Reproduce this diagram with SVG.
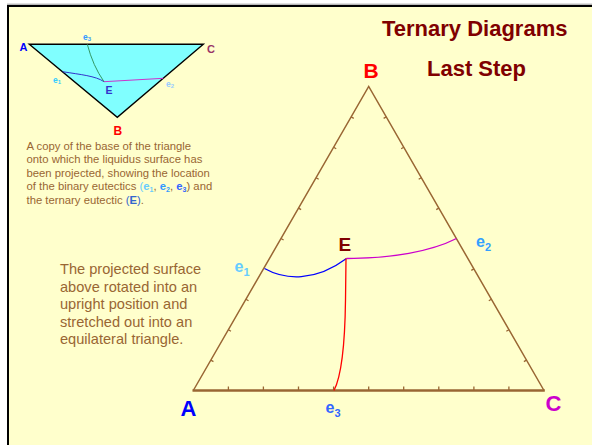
<svg xmlns="http://www.w3.org/2000/svg" width="592" height="445" viewBox="0 0 592 445">
<style>
text{font-family:"Liberation Sans",Arial,sans-serif}
.b{font-weight:bold}
.p{font-size:11.3px;fill:#996633}
.q{font-size:14.6px;fill:#996633}
.edge{fill:none;stroke:#996633;stroke-width:1.5}
.tick{fill:none;stroke:#996633;stroke-width:1.3}
</style>
<rect x="0" y="0" width="592" height="445" fill="#ffffff"/>
<rect x="8" y="6" width="600" height="460" fill="#FFFFCC" stroke="#000" stroke-width="2"/>
<line x1="7" y1="4.2" x2="592" y2="4.2" stroke="#999" stroke-width="1"/>

<g id="title">
<text x="382" y="36" class="b" font-size="22" fill="#800000">Ternary Diagrams</text>
<text x="427" y="76" class="b" font-size="22" fill="#800000">Last Step</text>
</g>

<g id="small-triangle">
<polygon points="29.3,44.3 203.3,44.3 117.3,117.3" fill="#80FFFF" stroke="#000" stroke-width="1.4" stroke-linejoin="miter"/>
<path d="M62.7,71.7 C80,74.5 96,76 104,81.7" fill="none" stroke="#3333CC" stroke-width="1"/>
<path d="M104,81.7 L163.3,78.3" fill="none" stroke="#CC33CC" stroke-width="1"/>
<path d="M87.3,44.3 Q93,66 104,81.7" fill="none" stroke="#339966" stroke-width="1"/>
<text x="19.5" y="51" class="b" font-size="11" fill="#0000FF">A</text>
<text x="207" y="52.5" class="b" font-size="11" fill="#993366">C</text>
<text x="113.5" y="135" class="b" font-size="12" fill="#FF0000">B</text>
<text x="105.5" y="94" class="b" font-size="10.5" fill="#3333CC">E</text>
<text x="83" y="39.5" class="b" font-size="8.5" fill="#3399FF">e<tspan font-size="6" dy="1.5">3</tspan></text>
<text x="53" y="82.5" class="b" font-size="8.5" fill="#33CCFF">e<tspan font-size="6" dy="1.5">1</tspan></text>
<text x="166" y="86.5" class="b" font-size="8.5" fill="#99CCFF">e<tspan font-size="6" dy="1.5">2</tspan></text>
</g>

<g id="caption">
<text x="26.5" y="149.5" class="p">A copy of the base of the triangle</text>
<text x="26.5" y="163.1" class="p">onto which the liquidus surface has</text>
<text x="26.5" y="176.7" class="p">been projected, showing the location</text>
<text x="26.5" y="190.3" class="p">of the binary eutectics <tspan fill="#66CCFF">(</tspan><tspan class="b" fill="#66CCFF">e</tspan><tspan class="b" fill="#66CCFF" font-size="7" dy="2">1</tspan><tspan dy="-2">, </tspan><tspan class="b" fill="#3399FF">e</tspan><tspan class="b" fill="#3399FF" font-size="7" dy="2">2</tspan><tspan dy="-2">, </tspan><tspan class="b" fill="#3366FF">e</tspan><tspan class="b" fill="#3366FF" font-size="7" dy="2">3</tspan><tspan dy="-2">) and</tspan></text>
<text x="26.5" y="203.9" class="p">the ternary eutectic <tspan fill="#3366CC">(</tspan><tspan class="b" fill="#3366CC">E</tspan><tspan fill="#3366CC">)</tspan>.</text>
</g>

<g id="description">
<text x="60" y="274" class="q">The projected surface</text>
<text x="60" y="291.5" class="q">above rotated into an</text>
<text x="60" y="309" class="q">upright position and</text>
<text x="60" y="326.5" class="q">stretched out into an</text>
<text x="60" y="344" class="q">equilateral triangle.</text>
</g>

<g id="big-triangle">
<path class="edge" d="M193.3,390.5 L368.7,86.5 L544,390.5"/>
<line x1="192.5" y1="390.5" x2="544.8" y2="390.5" stroke="#996633" stroke-width="2.4"/>
<path class="tick" d="M210.84,360.1 l2.6,1.5 M228.38,329.7 l2.6,1.5 M245.92,299.3 l2.6,1.5 M281,238.5 l2.6,1.5 M298.54,208.1 l2.6,1.5 M316.08,177.7 l2.6,1.5 M333.62,147.3 l2.6,1.5 M351.16,116.9 l2.6,1.5"/>
<path class="tick" d="M526.47,360.1 l-2.6,1.5 M508.94,329.7 l-2.6,1.5 M491.41,299.3 l-2.6,1.5 M473.88,268.9 l-2.6,1.5 M438.82,208.1 l-2.6,1.5 M421.29,177.7 l-2.6,1.5 M403.76,147.3 l-2.6,1.5 M386.23,116.9 l-2.6,1.5"/>
<path class="tick" stroke-width="1.6" d="M228.4,390 v-3.5 M263.4,390 v-3.5 M298.5,390 v-3.5 M333.6,390 v-3.5 M368.7,390 v-3.5 M403.7,390 v-3.5 M438.8,390 v-3.5 M473.9,390 v-3.5 M508.9,390 v-3.5"/>
</g>

<g id="connectors">
<path d="M264.5,268.5 C285,280 315,282 346.5,258.5" fill="none" stroke="#0000FF" stroke-width="1.3"/>
<path d="M346.5,258.5 L354,258.3 C390,258 430,252 456.5,238.5" fill="none" stroke="#CC00CC" stroke-width="1.3"/>
<path d="M346,258.5 L345.5,300 C345,340 342,375 334,390.5" fill="none" stroke="#FF0000" stroke-width="1.3"/>
</g>

<g id="vertex-A"><text x="180.5" y="415.5" class="b" font-size="22" fill="#0000FF">A</text></g>
<g id="vertex-B"><text x="363.5" y="77.5" class="b" font-size="21" fill="#FF0000">B</text></g>
<g id="vertex-C"><text x="545.5" y="410.8" class="b" font-size="22" fill="#CC00CC">C</text></g>
<g id="point-E"><text x="338.5" y="250.8" class="b" font-size="19" fill="#800000">E</text></g>
<g id="point-e1"><text x="234.5" y="271.5" class="b" font-size="16" fill="#66CCFF">e<tspan font-size="11" dy="4">1</tspan></text></g>
<g id="point-e2"><text x="476" y="246.5" class="b" font-size="16" fill="#33A0FF">e<tspan font-size="11" dy="4">2</tspan></text></g>
<g id="point-e3"><text x="325.5" y="413.3" class="b" font-size="16" fill="#3366FF">e<tspan font-size="11" dy="4">3</tspan></text></g>
</svg>
